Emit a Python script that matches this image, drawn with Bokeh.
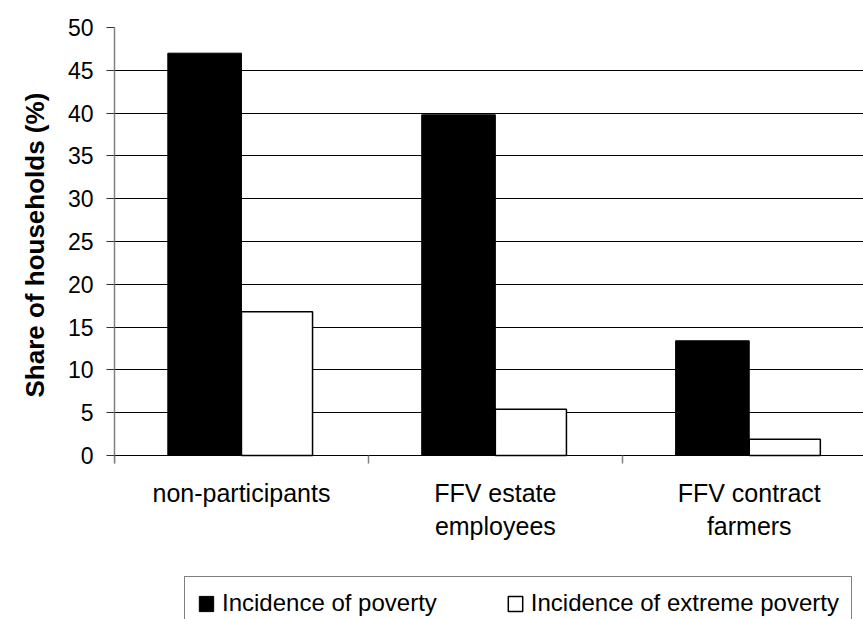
from bokeh.plotting import figure
from bokeh.models import Range1d, FixedTicker, Legend, LegendItem, ColumnDataSource, Title
from bokeh.embed import file_html
from bokeh.resources import INLINE

categories = ["non-participants", "FFV estate\nemployees", "FFV contract\nfarmers"]
poverty = [47.0, 39.8, 13.4]
extreme = [16.8, 5.4, 1.9]
y_ticks = [0, 5, 10, 15, 20, 25, 30, 35, 40, 45, 50]
series_names = ["Incidence of poverty", "Incidence of extreme poverty"]
y_title = "Share of households (%)"

FONT = "Liberation Sans"

idx = list(range(len(categories)))
src = ColumnDataSource(dict(
    x_pov=[i + 0.355 for i in idx],
    x_ext=[i + 0.64 for i in idx],
    poverty=poverty,
    extreme=extreme,
))

W, H = 863, 619
PX_PER_UNIT = 428 / 50
# frame runs to the bottom of the canvas; value 0 sits 164 px above it
y_min = -164 / PX_PER_UNIT
p = figure(width=W, height=H, output_backend="svg", toolbar_location=None,
           x_range=Range1d(0, 2.95), y_range=Range1d(y_min, 50),
           min_border_left=114, min_border_right=0, min_border_top=27,
           min_border_bottom=0)
p.outline_line_color = None
p.background_fill_color = "white"
p.border_fill_color = "white"

r1 = p.vbar(x="x_pov", top="poverty", bottom=0, width=0.29, source=src,
            fill_color="black", line_color="black", line_width=1)
r2 = p.vbar(x="x_ext", top="extreme", bottom=0, width=0.28, source=src,
            fill_color="white", line_color="black", line_width=1.5)

# y axis
ya = p.yaxis[0]
ya.ticker = FixedTicker(ticks=y_ticks)
ya.bounds = (-8 / PX_PER_UNIT, 50)
ya.major_label_text_font = FONT
ya.major_label_text_font_size = "23px"
ya.major_label_text_color = "black"
ya.major_label_standoff = 13
ya.axis_line_color = "#808080"
ya.axis_line_width = 1.5
ya.major_tick_line_color = "#333333"
ya.major_tick_out = 8
ya.major_tick_in = 0
ya.minor_tick_line_color = None

# y axis title, placed beside the 0-50 part of the axis
t = Title(text=y_title, align="left", offset=222, standoff=26,
          vertical_align="top",
          text_font=FONT, text_font_style="bold", text_font_size="26px",
          text_color="black")
p.add_layout(t, "left")

# x axis: drawn at value 0, labels at category centres, ticks at boundaries
xa = p.xaxis[0]
xa.fixed_location = 0
xa.ticker = FixedTicker(ticks=[i + 0.5 for i in idx], minor_ticks=[0, 1, 2, 3])
xa.major_label_overrides = {i + 0.5: c for i, c in zip(idx, categories)}
xa.major_label_text_font = FONT
xa.major_label_text_font_size = "25px"
xa.major_label_text_color = "black"
xa.major_label_standoff = 15
xa.major_tick_line_color = None
xa.major_tick_out = 0
xa.major_tick_in = 0
xa.minor_tick_line_color = "#808080"
xa.minor_tick_line_width = 1.5
xa.minor_tick_out = 8
xa.minor_tick_in = 0
xa.axis_line_color = "black"

p.xgrid.grid_line_color = None
p.ygrid.ticker = FixedTicker(ticks=y_ticks)
p.ygrid.grid_line_color = "black"
p.ygrid.grid_line_width = 1

legend = Legend(items=[LegendItem(label=series_names[0], renderers=[r1]),
                       LegendItem(label=series_names[1], renderers=[r2])],
                orientation="horizontal", location=(70, -11),
                label_text_font=FONT, label_text_font_size="24px",
                label_text_color="black",
                glyph_width=18, glyph_height=19, label_standoff=7,
                spacing=69, padding=12, margin=0,
                border_line_color="black", border_line_width=1,
                background_fill_color="white", background_fill_alpha=1)
p.add_layout(legend, "center")

open("out.html", "w").write(file_html(p, INLINE))
